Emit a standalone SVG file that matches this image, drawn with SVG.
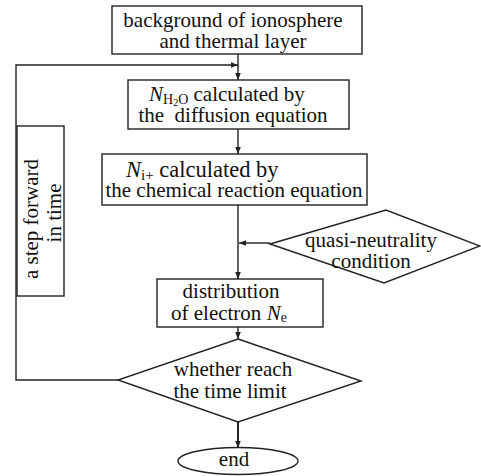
<svg xmlns="http://www.w3.org/2000/svg" width="481" height="476" viewBox="0 0 481 476">
<style>
.b{fill:#fff;stroke:#222;stroke-width:1.4}
.c{fill:none;stroke:#222;stroke-width:1.4}
text{font-family:"Liberation Serif","Times New Roman",serif;font-size:21px;fill:#111;white-space:pre}
.m{text-anchor:middle}
.i{font-style:italic}
.s{font-size:14px}
.ss{font-size:10px}
</style>
<defs>
<marker id="a" viewBox="0 0 10 10" refX="10" refY="5" markerWidth="7" markerHeight="7" markerUnits="userSpaceOnUse" orient="auto">
<path d="M0,1 L10,5 L0,9 Z" fill="#222"/>
</marker>
</defs>
<rect width="481" height="476" fill="#fff"/>
<g id="connectors">
<line class="c" x1="238" y1="54" x2="238" y2="80" marker-end="url(#a)"/>
<polyline class="c" points="118,380 16,380 16,65 238,65" marker-end="url(#a)"/>
<line class="c" x1="238" y1="129" x2="238" y2="154" marker-end="url(#a)"/>
<line class="c" x1="238" y1="205" x2="238" y2="279" marker-end="url(#a)"/>
<line class="c" x1="270" y1="243" x2="239" y2="243" marker-end="url(#a)"/>
<line class="c" x1="238" y1="327" x2="238" y2="339" marker-end="url(#a)"/>
<line class="c" x1="238" y1="422" x2="238" y2="448" marker-end="url(#a)" style="stroke-width:2"/>
</g>
<g id="n1">
<rect class="b" x="112" y="6" width="250" height="48"/>
<text class="m" x="233" y="27">background of ionosphere</text>
<text class="m" x="233" y="48">and thermal layer</text>
</g>
<g id="n2">
<rect class="b" x="128" y="80" width="221" height="49"/>
<text x="149" y="101"><tspan class="i">N</tspan><tspan class="s" dy="3">H</tspan><tspan class="ss" dy="2">2</tspan><tspan class="s" dy="-2">O</tspan><tspan dy="-3"> calculated by</tspan></text>
<text class="m" x="233" y="122">the  diffusion equation</text>
</g>
<g id="n3">
<rect class="b" x="102" y="154" width="265" height="51"/>
<text x="126" y="177" style="font-size:22.5px"><tspan class="i">N</tspan><tspan dy="3" style="font-size:15px">i+</tspan><tspan dy="-3"> calculated by</tspan></text>
<text class="m" x="234" y="197">the chemical reaction equation</text>
</g>
<g id="n4">
<polygon class="b" points="270,244 386,210 480,246 384,283"/>
<text class="m" x="371" y="247">quasi-neutrality</text>
<text class="m" x="371" y="268">condition</text>
</g>
<g id="n5">
<rect class="b" x="157" y="279" width="166" height="48"/>
<text class="m" x="231" y="298">distribution</text>
<text x="171" y="320">of electron <tspan class="i">N</tspan><tspan class="s" dy="2">e</tspan></text>
</g>
<g id="n6">
<polygon class="b" points="238,339 361,381 238,422 118,380"/>
<text class="m" x="233" y="376">whether reach</text>
<text class="m" x="230" y="398">the time limit</text>
</g>
<g id="n7">
<ellipse class="b" cx="238" cy="461" rx="60" ry="13.5"/>
<text class="m" x="234" y="466">end</text>
</g>
<g id="n8">
<rect class="b" x="17" y="126" width="47" height="170"/>
<text class="m" transform="translate(38,219) rotate(-90)">a step forward</text>
<text class="m" transform="translate(61,213) rotate(-90)">in time</text>
</g>
</svg>
